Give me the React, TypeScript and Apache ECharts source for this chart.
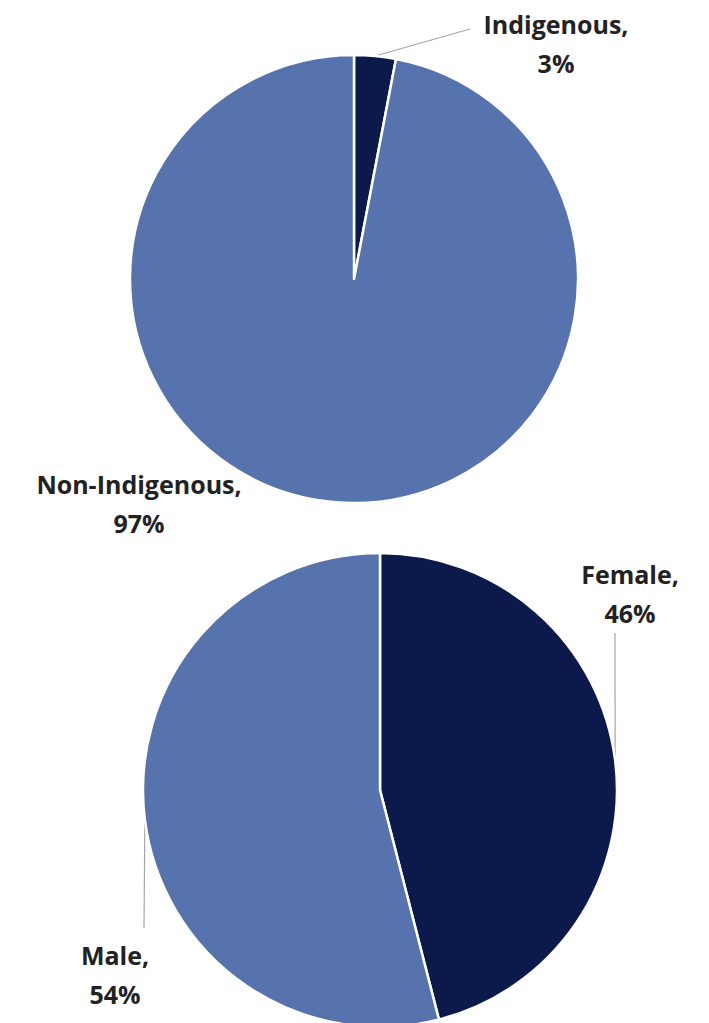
import React, { useEffect, useRef } from "react";
import * as echarts from "echarts";

// Data
const indigenousCategories = ["Indigenous", "Non-Indigenous"];
const indigenousValues = [3, 97];
const genderCategories = ["Female", "Male"];
const genderValues = [46, 54];

// Styling
const NAVY = "#0b1a4a";
const MID_BLUE = "#5673ad";
const LINE_GREY = "#a6a6a6";
const TEXT = "#222222";

// Label placement (label centre, and where the leader line ends)
const labelSpots: Record<string, { x: number; y: number; end?: [number, number] | null }> = {
  Indigenous: { x: 556, y: 43, end: [470, 29] },
  "Non-Indigenous": { x: 139, y: 503, end: null },
  Female: { x: 630, y: 593, end: [615, 633] },
  Male: { x: 115, y: 974, end: [144, 928] },
};

const labelStyle = {
  show: true,
  formatter: (p: any) => `${p.name},\n${Math.round(p.percent)}%`,
  fontFamily: "Open Sans, Noto Sans, sans-serif",
  fontWeight: "bold" as const,
  fontSize: 25,
  lineHeight: 39,
  color: TEXT,
  align: "center" as const,
};

function makeLayout(names: string[]) {
  return (params: any) => {
    const spot = labelSpots[names[params.dataIndex]];
    const res: any = {
      x: spot.x,
      y: spot.y,
      align: "center",
      verticalAlign: "middle",
      moveOverlap: false,
      hideOverlap: false,
    };
    if (spot.end && params.labelLinePoints) {
      res.labelLinePoints = [params.labelLinePoints[0], spot.end];
    }
    return res;
  };
}

export default function App() {
  const ref = useRef<HTMLDivElement>(null);
  useEffect(() => {
    if (!ref.current) return;
    const chart = echarts.init(ref.current, undefined, { renderer: "svg" });
    chart.setOption({
      animation: false,
      backgroundColor: "#ffffff",
      series: [
        {
          type: "pie",
          center: [354, 279],
          radius: [0, 224],
          startAngle: 90,
          clockwise: true,
          avoidLabelOverlap: false,
          itemStyle: { borderColor: "#ffffff", borderWidth: 2.5 },
          label: labelStyle,
          labelLine: { show: true, lineStyle: { color: LINE_GREY, width: 1.2 } },
          labelLayout: makeLayout(indigenousCategories),
          data: indigenousCategories.map((name, i) => ({
            name,
            value: indigenousValues[i],
            itemStyle: { color: i === 0 ? NAVY : MID_BLUE },
            labelLine: { show: labelSpots[name].end != null },
          })),
        },
        {
          type: "pie",
          center: [380, 790],
          radius: [0, 237],
          startAngle: 90,
          clockwise: true,
          avoidLabelOverlap: false,
          itemStyle: { borderColor: "#ffffff", borderWidth: 2.5 },
          label: labelStyle,
          labelLine: { show: true, lineStyle: { color: LINE_GREY, width: 1.2 } },
          labelLayout: makeLayout(genderCategories),
          data: genderCategories.map((name, i) => ({
            name,
            value: genderValues[i],
            itemStyle: { color: i === 0 ? NAVY : MID_BLUE },
            labelLine: { show: labelSpots[name].end != null },
          })),
        },
      ],
    });
    return () => chart.dispose();
  }, []);
  return (
    <div
      ref={ref}
      style={{ position: "fixed", left: 0, top: 0, width: 709, height: 1023, background: "#fff" }}
    />
  );
}
